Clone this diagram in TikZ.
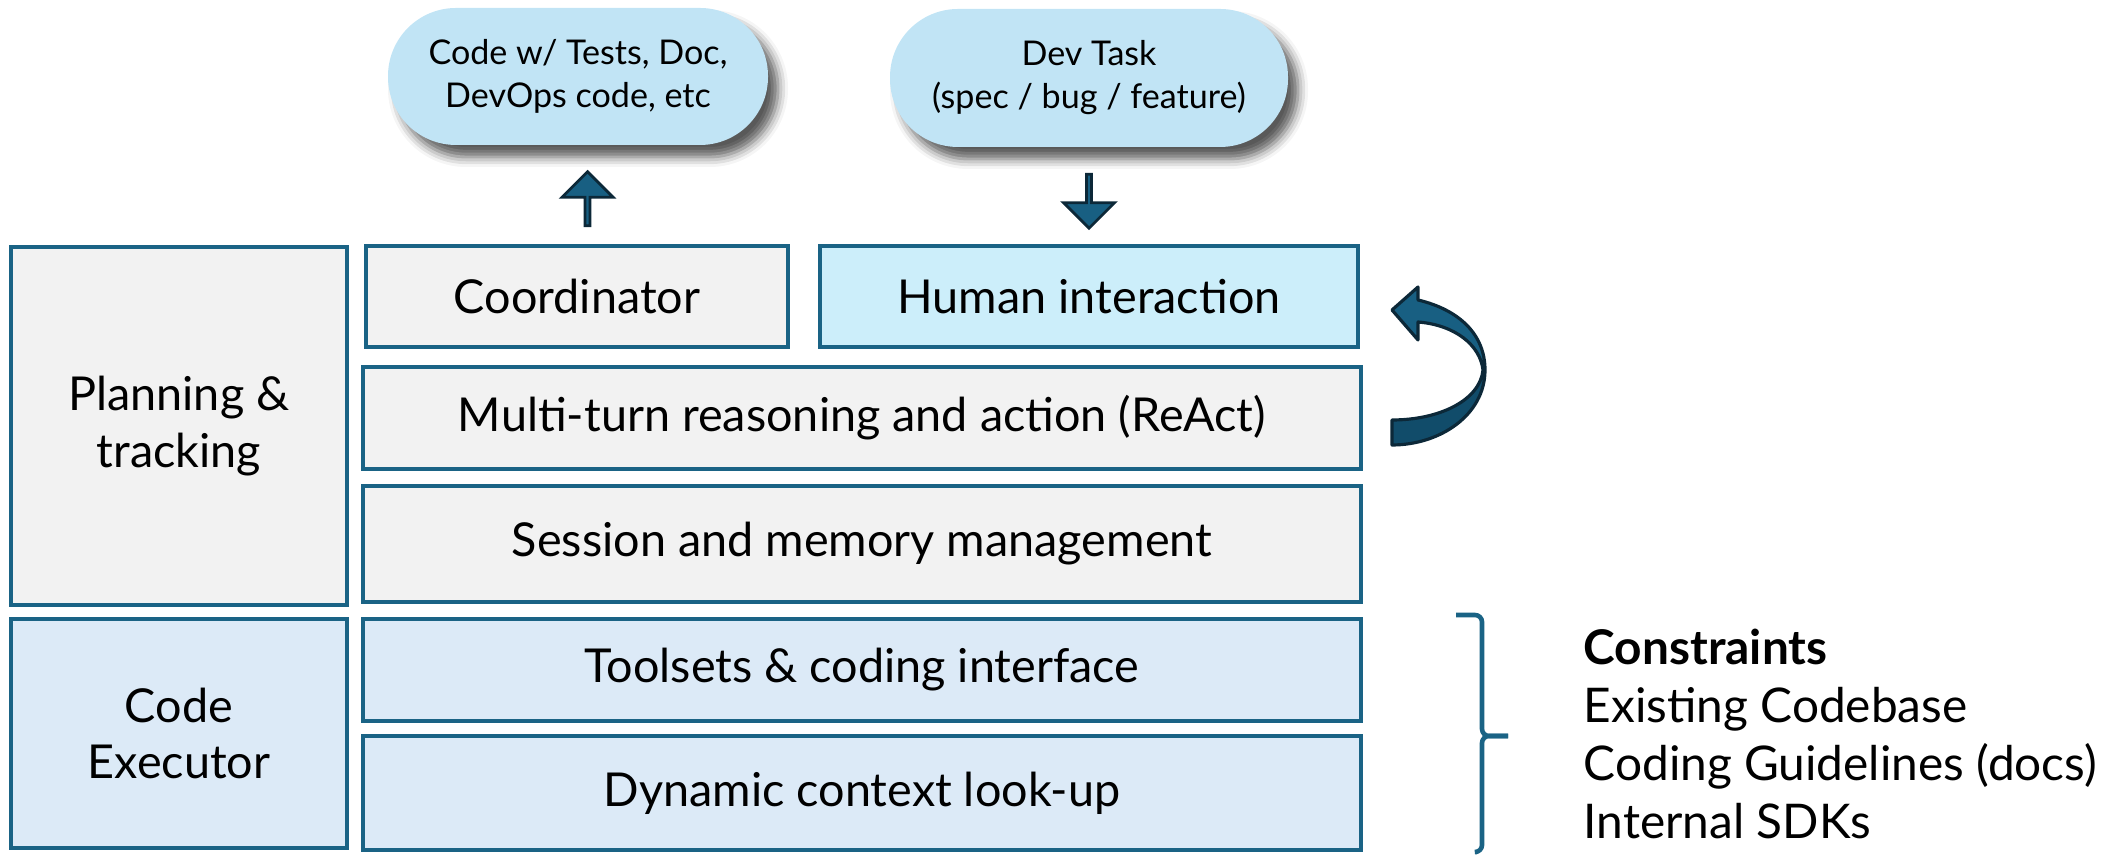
\documentclass[tikz,border=0pt]{standalone}
\usepackage{fontspec}
\setmainfont{Lato}
\usepackage{xcolor}
\usepackage{tikz}
\usetikzlibrary{shapes,arrows,positioning,calc,shadows.blur,arrows.meta}

\definecolor{edgeblue}{RGB}{26,99,133}
\definecolor{planfill}{RGB}{242,242,242}
\definecolor{humanfill}{RGB}{204,238,250}
\definecolor{execfill}{RGB}{220,234,247}
\definecolor{pillfill}{RGB}{193,228,245}
\definecolor{arrowfill}{RGB}{24,95,130}
\definecolor{arrowdark}{RGB}{17,76,106}
\definecolor{arrowedge}{RGB}{12,40,56}

\tikzset{
  layer/.style n args={2}{draw=edgeblue, line width=1.2pt, fill=planfill, inner sep=0pt,
    minimum width=#1cm, minimum height=#2cm, align=center,
    font=\fontsize{13.3}{16.2}\selectfont},
  pill/.style={fill=pillfill, rounded corners=0.68cm, inner sep=0pt, align=center,
    font=\fontsize{9.7}{12.2}\selectfont,
    blur shadow={shadow xshift=0.1cm, shadow yshift=-0.12cm, shadow opacity=65, shadow blur radius=0.1cm}},
  blockarrow/.style={single arrow, draw=arrowedge, fill=arrowfill, line width=0.8pt,
    inner sep=0pt, minimum width=0.51cm, minimum height=0.54cm,
    single arrow head extend=0.13cm},
}

\begin{document}
\begin{tikzpicture}
    \useasboundingbox (0,0) rectangle (21.28,8.55);

    % left column
    \node[layer={3.36}{3.58}] (plan) at (1.79,4.29) {Planning \&\\tracking};
    \node[layer={3.36}{2.29}, fill=execfill] (exec) at (1.79,1.215) {Code\\Executor};

    % layers
    \node[layer={4.22}{1.01}] (coord) at (5.77,5.585) {Coordinator};
    \node[layer={5.38}{1.01}, fill=humanfill] (human) at (10.89,5.585) {Human interaction};
    \node[layer={9.98}{1.02}] (react) at (8.62,4.37) {Multi-turn reasoning and action (ReAct)};
    \node[layer={9.98}{1.16}] (memory) at (8.62,3.11) {Session and memory management};
    \node[layer={9.98}{1.02}, fill=execfill] (tools) at (8.62,1.85) {Toolsets \& coding interface};
    \node[layer={9.98}{1.14}, fill=execfill] (context) at (8.62,0.62) {Dynamic context look-up};

    % input and output
    \node[pill, minimum width=3.80cm, minimum height=1.37cm] (output) at (5.78,7.785) {Code w/ Tests, Doc,\\DevOps code, etc};
    \node[pill, minimum width=3.98cm, minimum height=1.38cm] (task) at (10.89,7.77) {Dev Task\\(spec / bug / feature)};
    \node[blockarrow, rotate=90] (up) at (5.875,6.55) {};
    \node[blockarrow, rotate=-90] (down) at (10.89,6.55) {};

    % loop arrow
    \fill[arrowfill] (13.92,5.45) -- (14.18,5.68) -- (14.18,5.55)
        .. controls (14.6,5.45) and (14.85,5.2) .. (14.85,4.85)
        -- (14.83,4.85) .. controls (14.8,5.1) and (14.55,5.30) .. (14.18,5.33)
        -- (14.18,5.15) -- cycle;
    \fill[arrowdark] (14.85,4.85) .. controls (14.85,4.4) and (14.4,4.10) .. (13.92,4.10)
        -- (13.92,4.35) .. controls (14.4,4.35) and (14.8,4.55) .. (14.83,4.85) -- cycle;
    \draw[arrowedge, line width=0.9pt, line join=round] (13.92,5.45) -- (14.18,5.68) -- (14.18,5.55)
        .. controls (14.6,5.45) and (14.85,5.2) .. (14.85,4.85)
        .. controls (14.85,4.4) and (14.4,4.10) .. (13.92,4.10)
        -- (13.92,4.35) .. controls (14.4,4.35) and (14.8,4.55) .. (14.83,4.85)
        .. controls (14.8,5.1) and (14.55,5.30) .. (14.18,5.33)
        -- (14.18,5.15) -- cycle;

    % constraints
    \coordinate (bracetop) at (14.56,2.40);
    \coordinate (bracetip) at (15.08,1.19);
    \coordinate (bracebot) at (14.77,0.03);
    \draw[edgeblue, line width=1.3pt, rounded corners=0.07cm] (bracetop) -- (14.82,2.40) -- (14.82,1.19) -- (bracetip);
    \draw[edgeblue, line width=1.3pt, rounded corners=0.07cm] (bracebot) -- (14.82,0.03) -- (14.82,1.19) -- (bracetip);
    \node[anchor=west, align=left, inner sep=0pt, font=\fontsize{13.6}{16.5}\selectfont] (limits) at (15.83,1.21)
        {\textbf{Constraints}\\Existing Codebase\\Coding Guidelines (docs)\\Internal SDKs};
\end{tikzpicture}
\end{document}
